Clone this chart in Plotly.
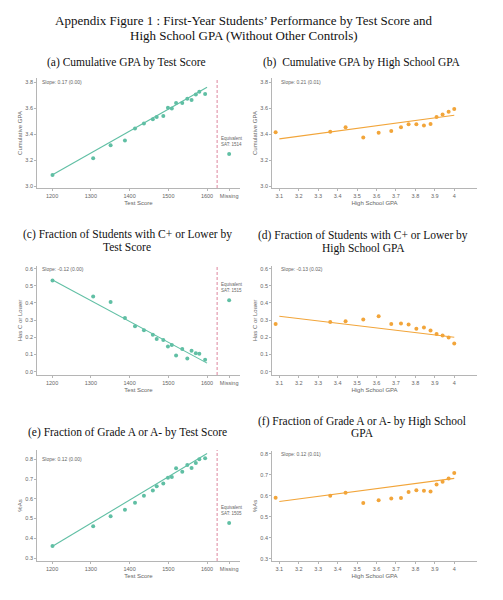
import plotly.graph_objects as go

# the page has an 8px body margin, so the figure is drawn 8px in from the
# top-left corner of the 503x600 window
OFF = 8
W, H = 503 - OFF, 600 - OFF


def px_x(p):
    return (p - OFF) / W


def px_y(p):
    return 1 - (p - OFF) / H


# ---------------------------------------------------------------------------
# Data
test_x = [1201, 1306, 1351, 1388, 1414, 1437, 1460, 1470, 1487, 1499,
          1509, 1520, 1536, 1549, 1560, 1571, 1580, 1595]
hs_gpa_x = [3.081, 3.362, 3.441, 3.532, 3.611, 3.676, 3.726, 3.765, 3.805,
            3.844, 3.878, 3.909, 3.940, 3.971, 4.0]

missing_x = 1657     # where the "Missing" bin sits on the test score axis
missing_cut = 1626   # dashed separator

# (a) cumulative GPA by test score
cgpa_test = [3.085, 3.213, 3.314, 3.350, 3.442, 3.481, 3.514, 3.532, 3.538,
             3.602, 3.597, 3.638, 3.638, 3.671, 3.661, 3.705, 3.725, 3.707]
cgpa_test_missing = 3.247
cgpa_test_fit = [3.085, 3.760]
# (b) cumulative GPA by HS GPA
cgpa_hs = [3.414, 3.417, 3.453, 3.373, 3.409, 3.424, 3.453, 3.476, 3.476,
           3.466, 3.478, 3.532, 3.550, 3.571, 3.592]
cgpa_hs_fit = [3.363, 3.545]
# (c) has C+ or lower by test score
cplus_test = [0.530, 0.437, 0.406, 0.312, 0.265, 0.242, 0.215, 0.190, 0.184,
              0.147, 0.155, 0.095, 0.132, 0.077, 0.122, 0.107, 0.105, 0.070]
cplus_test_missing = 0.416
cplus_test_fit = [0.535, 0.050]
# (d) has C+ or lower by HS GPA
cplus_hs = [0.277, 0.290, 0.294, 0.304, 0.323, 0.277, 0.281, 0.275, 0.250,
            0.257, 0.240, 0.219, 0.211, 0.199, 0.164]
cplus_hs_fit = [0.323, 0.201]
# (e) share of A / A- by test score
aa_test = [0.361, 0.461, 0.512, 0.544, 0.580, 0.615, 0.642, 0.663, 0.678,
           0.707, 0.710, 0.754, 0.737, 0.771, 0.756, 0.781, 0.800, 0.805]
aa_test_missing = 0.478
aa_test_fit = [0.358, 0.829]
# (f) share of A / A- by HS GPA
aa_hs = [0.591, 0.600, 0.614, 0.565, 0.579, 0.587, 0.590, 0.618, 0.627,
         0.624, 0.621, 0.654, 0.667, 0.683, 0.709]
aa_hs_fit = [0.573, 0.683]

test_fit_x = [1200, 1600]
hs_fit_x = [3.1, 4.0]

test_tickvals = [1200, 1300, 1400, 1500, 1600, missing_x]
test_ticktext = ["1200", "1300", "1400", "1500", "1600", "Missing"]
hs_tickvals = [3.1, 3.2, 3.3, 3.4, 3.5, 3.6, 3.7, 3.8, 3.9, 4.0]
hs_ticktext = ["3.1", "3.2", "3.3", "3.4", "3.5", "3.6", "3.7", "3.8", "3.9", "4"]

main_title = ["Appendix Figure 1 : First-Year Students’ Performance by Test Score and",
              "High School GPA (Without Other Controls)"]
titles = [
    ["(a) Cumulative GPA by Test Score"],
    ["(b)  Cumulative GPA by High School GPA"],
    ["(c) Fraction of Students with C+ or Lower by", "Test Score"],
    ["(d) Fraction of Students with C+ or Lower by", "High School GPA"],
    ["(e) Fraction of Grade A or A- by Test Score"],
    ["(f) Fraction of Grade A or A- by High School", "GPA"],
]
slopes = ["Slope: 0.17 (0.00)", "Slope: 0.21 (0.01)", "Slope: -0.12 (0.00)",
          "Slope: -0.13 (0.02)", "Slope: 0.12 (0.00)", "Slope: 0.12 (0.01)"]
equiv_sat = ["1514", "1515", "1505"]

TEAL = "#60BFA4"
ORANGE = "#F2A53A"
AXIS = "#B5B5B5"
TXT = "#666666"
SERIF = "Liberation Serif"
SANS = "Liberation Sans"

# ---------------------------------------------------------------------------
# panel geometry in window pixels: x domain, y domain (top, bottom), ranges,
# title line positions
panels = [
    dict(xd=(37, 240), yd=(78, 188), xr=(1161, 1685), yr=(2.985, 3.831),
         yt=[3.0, 3.2, 3.4, 3.6, 3.8], ytt=["3.0", "3.2", "3.4", "3.6", "3.8"],
         ytitle="Cumulative GPA", tx=126, ty=[62]),
    dict(xd=(272, 477), yd=(78, 188), xr=(3.0624, 4.117), yr=(2.985, 3.831),
         yt=[3.0, 3.2, 3.4, 3.6, 3.8], ytt=["3.0", "3.2", "3.4", "3.6", "3.8"],
         ytitle="Cumulative GPA", tx=362, ty=[62]),
    dict(xd=(37, 240), yd=(266, 375), xr=(1161, 1685), yr=(-0.019, 0.615),
         yt=[0, 0.1, 0.2, 0.3, 0.4, 0.5, 0.6],
         ytt=["0.0", "0.1", "0.2", "0.3", "0.4", "0.5", "0.6"],
         ytitle="Has C or Lower", tx=127, ty=[234, 247]),
    dict(xd=(272, 477), yd=(266, 375), xr=(3.0624, 4.117), yr=(-0.019, 0.615),
         yt=[0, 0.1, 0.2, 0.3, 0.4, 0.5, 0.6],
         ytt=["0.0", "0.1", "0.2", "0.3", "0.4", "0.5", "0.6"],
         ytitle="Has C or Lower", tx=363, ty=[235, 248]),
    dict(xd=(37, 240), yd=(450, 561), xr=(1161, 1685), yr=(0.285, 0.847),
         yt=[0.3, 0.4, 0.5, 0.6, 0.7, 0.8],
         ytt=["0.3", "0.4", "0.5", "0.6", "0.7", "0.8"],
         ytitle="%As", tx=127, ty=[432]),
    dict(xd=(272, 477), yd=(451, 561), xr=(3.0624, 4.117), yr=(0.2885, 0.814),
         yt=[0.3, 0.4, 0.5, 0.6, 0.7, 0.8],
         ytt=["0.3", "0.4", "0.5", "0.6", "0.7", "0.8"],
         ytitle="%As", tx=362, ty=[421, 433]),
]

series = [
    (test_x, cgpa_test, test_fit_x, cgpa_test_fit, cgpa_test_missing, TEAL),
    (hs_gpa_x, cgpa_hs, hs_fit_x, cgpa_hs_fit, None, ORANGE),
    (test_x, cplus_test, test_fit_x, cplus_test_fit, cplus_test_missing, TEAL),
    (hs_gpa_x, cplus_hs, hs_fit_x, cplus_hs_fit, None, ORANGE),
    (test_x, aa_test, test_fit_x, aa_test_fit, aa_test_missing, TEAL),
    (hs_gpa_x, aa_hs, hs_fit_x, aa_hs_fit, None, ORANGE),
]

fig = go.Figure()
layout = {}
annotations = []
shapes = []

for i, (p, s) in enumerate(zip(panels, series)):
    n = i + 1
    xa = "x" if n == 1 else f"x{n}"
    ya = "y" if n == 1 else f"y{n}"
    xs, ys, fx, fy, miss, col = s
    is_test = miss is not None

    # fitted line, then binned points
    fig.add_trace(go.Scatter(x=fx, y=fy, mode="lines", xaxis=xa, yaxis=ya,
                             line=dict(color=col, width=1.1), showlegend=False))
    fig.add_trace(go.Scatter(x=xs, y=ys, mode="markers", xaxis=xa, yaxis=ya,
                             marker=dict(color=col, size=4), showlegend=False))

    if is_test:
        fig.add_trace(go.Scatter(x=[missing_x], y=[miss], mode="markers",
                                 xaxis=xa, yaxis=ya,
                                 marker=dict(color=col, size=4), showlegend=False))
        shapes.append(dict(type="line", xref=xa, yref=f"{ya} domain",
                           x0=missing_cut, x1=missing_cut, y0=0, y1=1,
                           line=dict(color="#E39AAE", width=1.2, dash="3px,2px")))
        annotations.append(dict(
            xref=xa, yref=ya, x=missing_cut + 5, y=miss,
            text=f"Equivalent<br>SAT: {equiv_sat[i // 2]}",
            showarrow=False, xanchor="left", yanchor="bottom", yshift=5,
            align="left", font=dict(family=SANS, size=4.5, color=TXT)))

    # slope label sits at the top tick, just right of the axis
    annotations.append(dict(
        xref=xa, yref=ya, x=1170 if is_test else 3.1, y=p["yt"][-1],
        text=slopes[i], showarrow=False, xanchor="left", yanchor="middle",
        font=dict(family=SANS, size=5, color=TXT)))

    for line, ty in zip(titles[i], p["ty"]):
        annotations.append(dict(
            xref="paper", yref="paper", x=px_x(p["tx"]), y=px_y(ty),
            text=line, showarrow=False, xanchor="center", yanchor="middle",
            font=dict(family=SERIF, size=11.5, color="#111111")))

    layout[f"xaxis{'' if n == 1 else n}"] = dict(
        domain=[px_x(p["xd"][0]), px_x(p["xd"][1])], range=list(p["xr"]),
        anchor=ya, showgrid=False, zeroline=False, showline=True,
        linecolor=AXIS, linewidth=0.8, ticks="outside", ticklen=2,
        tickcolor=AXIS, tickwidth=0.8,
        tickvals=test_tickvals if is_test else hs_tickvals,
        ticktext=test_ticktext if is_test else hs_ticktext,
        tickfont=dict(family=SANS, size=5.5, color=TXT),
        title=dict(text="Test Score" if is_test else "High School GPA",
                   font=dict(family=SANS, size=6, color=TXT), standoff=3))
    layout[f"yaxis{'' if n == 1 else n}"] = dict(
        domain=[px_y(p["yd"][1]), px_y(p["yd"][0])], range=list(p["yr"]),
        anchor=xa, showgrid=False, zeroline=False, showline=True,
        linecolor=AXIS, linewidth=0.8, ticks="outside", ticklen=2,
        tickcolor=AXIS, tickwidth=0.8, tickvals=p["yt"], ticktext=p["ytt"],
        tickfont=dict(family=SANS, size=5.5, color=TXT),
        title=dict(text=p["ytitle"], font=dict(family=SANS, size=6, color=TXT),
                   standoff=2))

for line, ty in zip(main_title, [21, 36]):
    annotations.append(dict(
        xref="paper", yref="paper", x=px_x(244), y=px_y(ty), text=line,
        showarrow=False, xanchor="center", yanchor="middle",
        font=dict(family=SERIF, size=13, color="#111111")))

fig.update_layout(
    width=W, height=H,
    margin=dict(l=0, r=0, t=0, b=0),
    paper_bgcolor="white", plot_bgcolor="white",
    annotations=annotations, shapes=shapes,
    **layout,
)

fig.write_html("out.html")
